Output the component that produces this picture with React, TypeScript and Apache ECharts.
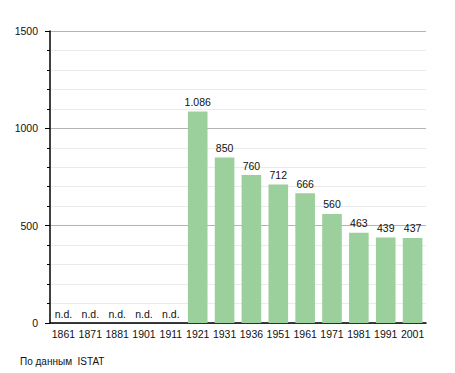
import React, { useEffect, useRef } from "react";
import * as echarts from "echarts";

const years = ["1861", "1871", "1881", "1901", "1911", "1921", "1931", "1936", "1951", "1961", "1971", "1981", "1991", "2001"];
const population: (number | null)[] = [null, null, null, null, null, 1086, 850, 760, 712, 666, 560, 463, 439, 437];
const yTicks = [0, 500, 1000, 1500];
const sourceNote = "По данным  ISTAT";

const FONT = "Liberation Sans, Arial, sans-serif";

function fmt(v: number): string {
  return String(v).replace(/\B(?=(\d{3})+(?!\d))/g, ".");
}

export default function App() {
  const ref = useRef<HTMLDivElement>(null);
  useEffect(() => {
    if (!ref.current) return;
    const chart = echarts.init(ref.current, null, { renderer: "svg" });
    chart.setOption({
      animation: false,
      textStyle: { fontFamily: FONT },
      grid: { left: 50, right: 29, top: 31, bottom: 50 },
      xAxis: {
        type: "category",
        data: years,
        axisLine: { lineStyle: { color: "#000", width: 1.5 } },
        axisTick: { show: false },
        axisLabel: { color: "#111", fontSize: 10.5, fontFamily: FONT, margin: 5, interval: 0 },
      },
      yAxis: {
        type: "value",
        min: yTicks[0],
        max: yTicks[yTicks.length - 1],
        interval: 500,
        axisLine: { show: true, lineStyle: { color: "#000", width: 1.5 } },
        axisTick: { show: true, length: 5, lineStyle: { color: "#000" } },
        minorTick: { show: true, splitNumber: 5, length: 3, lineStyle: { color: "#000" } },
        splitLine: { show: true, lineStyle: { color: "#b4b4b4" } },
        minorSplitLine: { show: true, lineStyle: { color: "#ebebeb" } },
        axisLabel: {
          color: "#111",
          fontSize: 10.5,
          fontFamily: FONT,
          margin: 12,
          formatter: (v: number) => String(v),
        },
      },
      series: [
        {
          type: "bar",
          data: population.map((v) => (v === null ? 0 : v)),
          barCategoryGap: "27%",
          itemStyle: { color: "#9bcf9b" },
          label: {
            show: true,
            position: "top",
            distance: 4,
            color: "#111",
            fontSize: 10.5,
            fontFamily: FONT,
            formatter: (p: any) => (population[p.dataIndex] === null ? "n.d." : fmt(p.value)),
          },
        },
      ],
      graphic: [
        {
          type: "text",
          left: 20,
          top: 356,
          style: { text: sourceNote, fontSize: 10, fontFamily: FONT, fill: "#111" },
        },
      ],
    });
    return () => chart.dispose();
  }, []);
  return <div ref={ref} style={{ width: 455, height: 373, position: "absolute", left: 0, top: 0 }} />;
}
